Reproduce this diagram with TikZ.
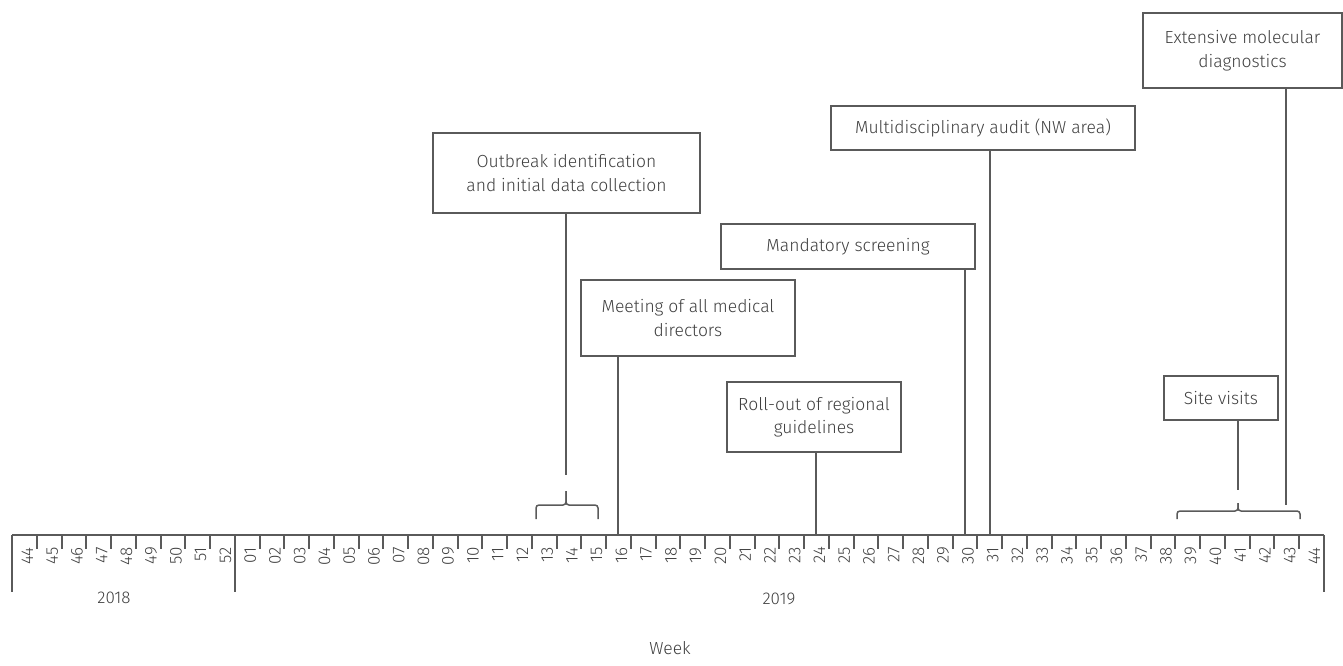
\documentclass[tikz,border=0pt]{standalone}
\usepackage{fontspec}
\IfFontExistsTF{Fira Sans Light}{\setmainfont{Fira Sans Light}}{\setmainfont{Fira Sans}}
\usetikzlibrary{calc}
\usepackage{xcolor}
\definecolor{linegray}{HTML}{5A5A5A}
\definecolor{textgray}{HTML}{3F3F3F}
\tikzset{
  evbox/.style={draw=linegray,line width=1.5pt,align=center,text=textgray,inner sep=0pt},
  wklabel/.style={rotate=90,anchor=east,text=textgray,inner sep=0pt,font=\fontsize{17}{20}\selectfont},
  yrlabel/.style={text=textgray,inner sep=0pt},
  conn/.style={draw=linegray,line width=1.5pt},
  bracket/.style={draw=linegray,line width=1.5pt,rounded corners=3pt},
}
\begin{document}
\begin{tikzpicture}[x=1pt,y=-1pt,font=\fontsize{17.5}{23.5}\selectfont]
\useasboundingbox (0,0) rectangle (1343,666);
\def\xo{12}
\def\cw{24.75}
\def\ya{535}
% axis
\draw[conn] (\xo,\ya) -- ({\xo+53*\cw},\ya);
\foreach \k in {0,9,53}
  \draw[conn] ({round(\xo+\k*\cw)},\ya) -- ++(0,57);
\foreach \k in {1,...,8,10,11,...,52}
  \draw[conn] ({round(\xo+\k*\cw)},\ya) -- ++(0,14);
\foreach \w [count=\i from 0] in {44,...,52}
  \node[wklabel] (wkb\w) at ({\xo+\cw*(\i+0.5)+3},{\ya+12}) {\w};
\foreach \w [count=\i from 9] in {1,...,44}{
  \coordinate (wk\w) at ({round(\xo+\cw*(\i+0.5))},\ya);
  \node[wklabel] (lb\w) at ({\xo+\cw*(\i+0.5)+3},{\ya+12}) {\ifnum\w<10 0\fi\w};
}
\node[yrlabel,font=\fontsize{17}{20}\selectfont] (y2018) at (114,598) {2018};
\node[yrlabel,font=\fontsize{17}{20}\selectfont] (y2019) at (779,599) {2019};
\node[yrlabel] (week) at (670,648) {Week};
% events
\node[evbox,minimum width=267pt,minimum height=80pt] (outbreak) at (566.5,173) {Outbreak identification\\and initial data collection};
\node[evbox,minimum width=214pt,minimum height=76pt] (meet) at (688,318) {Meeting of all medical\\directors};
\node[evbox,minimum width=254pt,minimum height=45pt] (mand) at (848,246.5) {Mandatory screening};
\node[evbox,minimum width=304pt,minimum height=44pt] (multi) at (983,128) {Multidisciplinary audit (NW area)};
\node[evbox,minimum width=174pt,minimum height=70pt] (roll) at (814,417) {Roll-out of regional\\guidelines};
\node[evbox,minimum width=114pt,minimum height=44pt] (site) at (1221,398) {Site visits};
\node[evbox,minimum width=199pt,minimum height=75pt] (ext) at (1242.5,50.5) {Extensive molecular\\diagnostics};
\coordinate (brA) at (566,475);
\coordinate (brB) at (1238,490);
\coordinate (extEnd) at (1286,505);
\draw[conn] (outbreak.south -| brA) -- (brA);
\draw[conn] (meet.south -| wk16) -- (wk16);
\draw[conn] (roll.south -| wk24) -- (wk24);
\draw[conn] (mand.south -| wk30) -- (wk30);
\draw[conn] (multi.south -| wk31) -- (wk31);
\draw[conn] (site.south -| brB) -- (brB);
\draw[conn] (ext.south -| extEnd) -- (extEnd);
% brackets
\draw[bracket] (536,519) |- (566,505) -- (566,491);
\draw[bracket] (598,519) |- (566,505) -- (566,491);
\draw[bracket] (1177,519) |- (1238,511) -- (1238,503);
\draw[bracket] (1300,519) |- (1238,511) -- (1238,503);
\end{tikzpicture}
\end{document}
